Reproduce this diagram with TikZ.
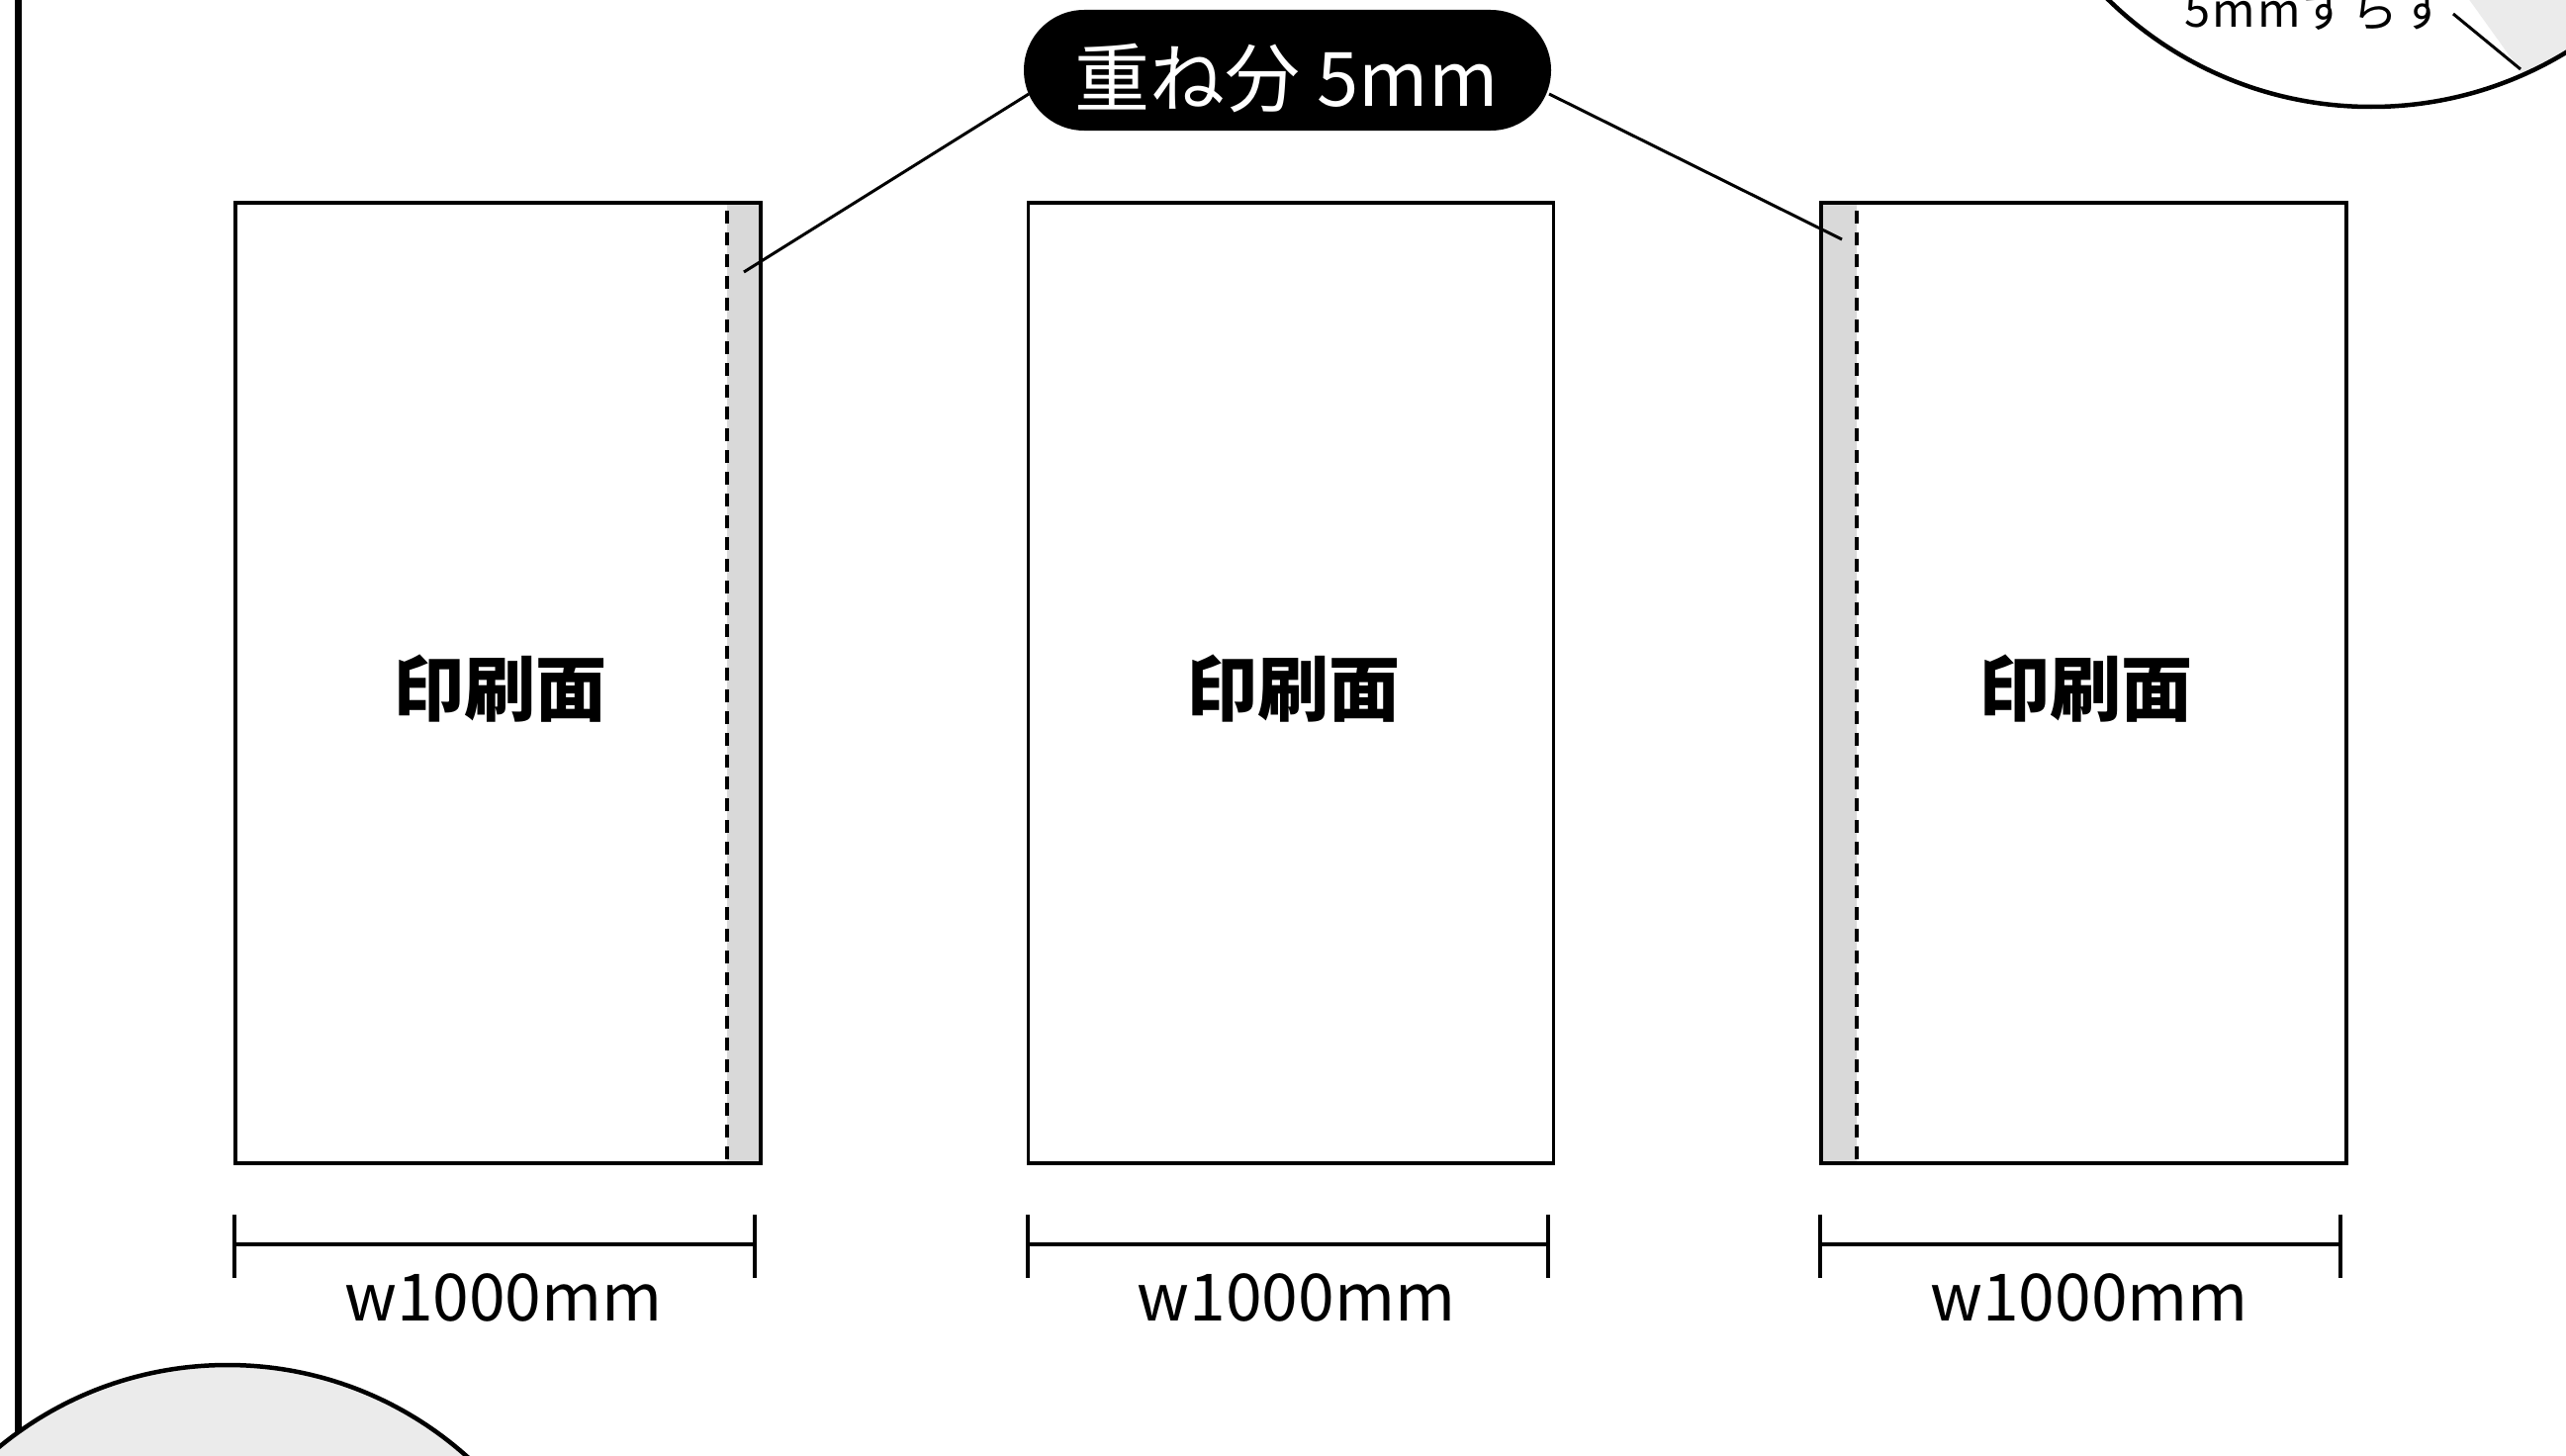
\documentclass[tikz,border=0pt]{standalone}
\usepackage{fontspec}
\newfontfamily\cjk{Noto Sans CJK JP}
\newfontfamily\cjkspaced[LetterSpace=5]{Noto Sans CJK JP}
\definecolor{bandgray}{HTML}{D9D9D9}
\definecolor{circgray}{HTML}{EBEBEB}
\begin{document}
\begin{tikzpicture}[x=1pt,y=-1pt,
  sheet/.style={draw, line width=3.8pt, minimum width=531pt, minimum height=971pt, inner sep=0pt},
  band/.style={fill=bandgray},
  fold/.style={line width=3.5pt, dash pattern=on 13pt off 9pt},
  leader/.style={line width=3pt},
  dimline/.style={line width=4pt},
  printlabel/.style={font=\cjk\bfseries\fontsize{72}{72}\selectfont, anchor=base, inner sep=0pt},
  dimlabel/.style={font=\cjk\fontsize{66}{66}\selectfont, anchor=base, inner sep=0pt},
  pill/.style={fill=black, rounded corners=61pt, minimum width=533pt, minimum height=122pt, inner sep=0pt},
  pilltext/.style={font=\cjk\fontsize{76}{76}\selectfont, text=white, anchor=base, inner sep=0pt},
  smalltext/.style={font=\cjkspaced\fontsize{47}{47}\selectfont, anchor=base west, inner sep=0pt},
  frame/.style={line width=7pt},
  bubble/.style={draw, line width=4.5pt}]
\useasboundingbox (0,0) rectangle (2594,1472);

% frame line at left
\coordinate (ftop) at (18,-10);
\coordinate (fbot) at (18,1500);
\draw[frame] (ftop) -- (fbot);

% overlap bands and fold lines
\fill[band] (735,205) rectangle (769,1176);
\draw[fold] (735,213) -- (735,1172);
\fill[band] (1841,205) rectangle (1877,1176);
\draw[fold] (1877,213) -- (1877,1172);

% sheets, labels and dimensions
\foreach \i/\cx in {1/503.5, 2/1305, 3/2106.5} {
  \node[sheet] (s\i) at (\cx,690.5) {};
  \node[printlabel] (p\i) at (\cx+2,723) {印刷面};
  \coordinate (da\i) at (\cx-266.5,1258);
  \coordinate (db\i) at (\cx+259.5,1258);
  \draw[dimline] (da\i) -- (db\i);
  \draw[dimline] (da\i) ++(0,-30) -- ++(0,64);
  \draw[dimline] (db\i) ++(0,-30) -- ++(0,64);
  \node[dimlabel] (w\i) at (\cx+5.5,1335) {w1000mm};
}

% leader lines to the overlap label
\coordinate (la) at (1040,95);
\coordinate (lb) at (752,275);
\coordinate (ra) at (1566,95);
\coordinate (rb) at (1862,242);
\draw[leader] (la) -- (lb);
\draw[leader] (ra) -- (rb);
\node[pill] (tag) at (1301.5,71) {};
\node[pilltext] (tagtext) at (1300.5,107) {重ね分 5mm};

% bottom-left circle
\node[circle, bubble, fill=circgray, minimum size=726pt, inner sep=0pt] (cbl) at (230,1743) {};

% top-right circle
\begin{scope}
  \clip (2397,-272) circle[radius=380pt];
  \fill[circgray] (2482,-20) -- (2548,72) -- (2700,200) -- (2700,-20) -- cycle;
\end{scope}
\node[smalltext] (shift) at (2208,28) {5mmずらす};
\coordinate (sa) at (2480,14);
\coordinate (sb) at (2548,70);
\draw[leader] (sa) -- (sb);
\node[circle, bubble, minimum size=760pt, inner sep=0pt] (ctr) at (2397,-272) {};
\end{tikzpicture}
\end{document}
